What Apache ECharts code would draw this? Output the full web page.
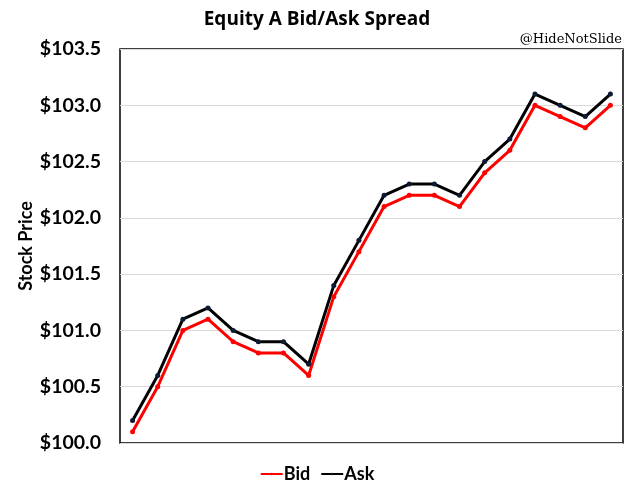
<!DOCTYPE html>
<html><head><meta charset="utf-8">
<script src="https://cdn.jsdelivr.net/npm/echarts@6/dist/echarts.min.js"></script>
<style>html,body{margin:0;padding:0;background:#fff}#c{width:634px;height:495px}</style>
</head><body><div id="c"></div>
<script>
const categories = ['1','2','3','4','5','6','7','8','9','10','11','12','13','14','15','16','17','18','19','20'];
const bid = [100.1,100.5,101.0,101.1,100.9,100.8,100.8,100.6,101.3,101.7,102.1,102.2,102.2,102.1,102.4,102.6,103.0,102.9,102.8,103.0];
const ask = [100.2,100.6,101.1,101.2,101.0,100.9,100.9,100.7,101.4,101.8,102.2,102.3,102.3,102.2,102.5,102.7,103.1,103.0,102.9,103.1];
const chart = echarts.init(document.getElementById('c'));
const F = 'Lato, "Noto Sans", sans-serif';
chart.setOption({
  animation:false,
  title:{text:'Equity A Bid/Ask Spread',left:'center',top:5,textStyle:{fontFamily:'"Open Sans", sans-serif',fontSize:19,fontWeight:'bold',color:'#000'}},
  graphic:[{type:'text',right:12,top:33,style:{text:'@HideNotSlide',font:'13px "DejaVu Serif"',fill:'#000'}}],
  legend:{bottom:7,left:'center',itemGap:10,itemWidth:22,itemHeight:3,textStyle:{fontFamily:F,fontSize:18,fontWeight:'bold',color:'#000',padding:[0,0,0,-4]},data:['Bid','Ask']},
  grid:{left:120,right:11,top:49,bottom:52,show:true,borderColor:'#000',borderWidth:1.5},
  xAxis:{type:'category',data:categories,boundaryGap:true,axisLabel:{show:false},axisTick:{show:false},axisLine:{show:false}},
  yAxis:{type:'value',min:100,max:103.5,interval:0.5,name:'Stock Price',nameLocation:'middle',nameGap:85,nameMoveOverlap:false,
    nameTextStyle:{fontFamily:F,fontSize:18,fontWeight:'bold',color:'#000'},
    axisLabel:{fontFamily:F,fontSize:19.5,fontWeight:'bold',color:'#000',margin:19,formatter:v=>'$'+v.toFixed(1)},
    axisLine:{show:false},axisTick:{show:false},splitLine:{lineStyle:{color:'#d9d9d9',width:1}}},
  series:[
    {name:'Bid',type:'line',data:bid,symbol:'circle',symbolSize:5,lineStyle:{color:'#ff0000',width:3},itemStyle:{color:'#ff0000'}},
    {name:'Ask',type:'line',data:ask,symbol:'circle',symbolSize:5,lineStyle:{color:'#000',width:3},itemStyle:{color:'#0d1a33'}}
  ]
});
</script></body></html>
